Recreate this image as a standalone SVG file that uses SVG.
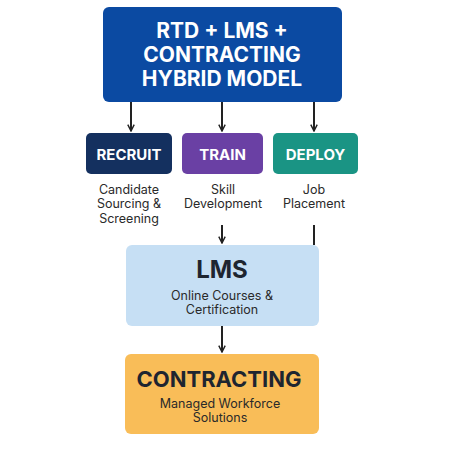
<svg xmlns="http://www.w3.org/2000/svg" width="450" height="450" viewBox="0 0 450 450">
<defs>
<marker id="ah" viewBox="0 0 10 10" refX="9" refY="5" markerWidth="8" markerHeight="8" markerUnits="userSpaceOnUse" orient="auto">
<path d="M1,1 L9,5 L1,9" fill="none" stroke="#222" stroke-width="1.8"/>
</marker>
<style>
.t{font-family:Inter,"Liberation Sans",sans-serif;text-anchor:middle}
.h{font-weight:700;fill:#fff}
.s{font-size:12.5px;fill:#2a2a2a}
.c{stroke:#222;stroke-width:2;fill:none}
</style>
</defs>
<rect width="450" height="450" fill="#fff"/>
<g id="connectors">
<line class="c" x1="131" y1="102" x2="131" y2="131" marker-end="url(#ah)"/>
<line class="c" x1="222" y1="102" x2="222" y2="131" marker-end="url(#ah)"/>
<line class="c" x1="314" y1="102" x2="314" y2="131" marker-end="url(#ah)"/>
<line class="c" x1="222" y1="225" x2="222" y2="243" marker-end="url(#ah)"/>
<line class="c" x1="314" y1="225" x2="314" y2="245"/>
<line class="c" x1="222" y1="326" x2="222" y2="352" marker-end="url(#ah)"/>
</g>
<g id="hybrid">
<rect x="103" y="7" width="239" height="95" rx="6" fill="#0b4aa2"/>
<text class="t h" x="222" y="38" font-size="21">RTD + LMS +</text>
<text class="t h" x="222" y="62" font-size="21">CONTRACTING</text>
<text class="t h" x="222" y="86" font-size="21">HYBRID MODEL</text>
</g>
<g id="recruit">
<rect x="86" y="133" width="86" height="41" rx="5" fill="#14305f"/>
<text class="t h" x="129" y="160" font-size="15">RECRUIT</text>
<text class="t s" x="129" y="194">Candidate</text>
<text class="t s" x="129" y="208">Sourcing &amp;</text>
<text class="t s" x="129" y="223">Screening</text>
</g>
<g id="train">
<rect x="182" y="133" width="81" height="41" rx="5" fill="#6a40a4"/>
<text class="t h" x="222.5" y="160" font-size="15">TRAIN</text>
<text class="t s" x="223" y="194">Skill</text>
<text class="t s" x="223" y="208">Development</text>
</g>
<g id="deploy">
<rect x="273" y="133" width="85" height="41" rx="5" fill="#1a9484"/>
<text class="t h" x="315.5" y="160" font-size="15">DEPLOY</text>
<text class="t s" x="314" y="194">Job</text>
<text class="t s" x="314" y="208">Placement</text>
</g>
<g id="lms">
<rect x="126" y="245" width="193" height="81" rx="6" fill="#c6dff4"/>
<text class="t" x="222" y="278" font-size="24" font-weight="700" fill="#1e2530">LMS</text>
<text class="t s" x="222" y="300">Online Courses &amp;</text>
<text class="t s" x="222" y="314">Certification</text>
</g>
<g id="contracting">
<rect x="125" y="354" width="194" height="80" rx="6" fill="#f9bd58"/>
<text class="t" x="219" y="387" font-size="22" font-weight="700" fill="#1e2530">CONTRACTING</text>
<text class="t s" x="220" y="408">Managed Workforce</text>
<text class="t s" x="220" y="422">Solutions</text>
</g>
</svg>
